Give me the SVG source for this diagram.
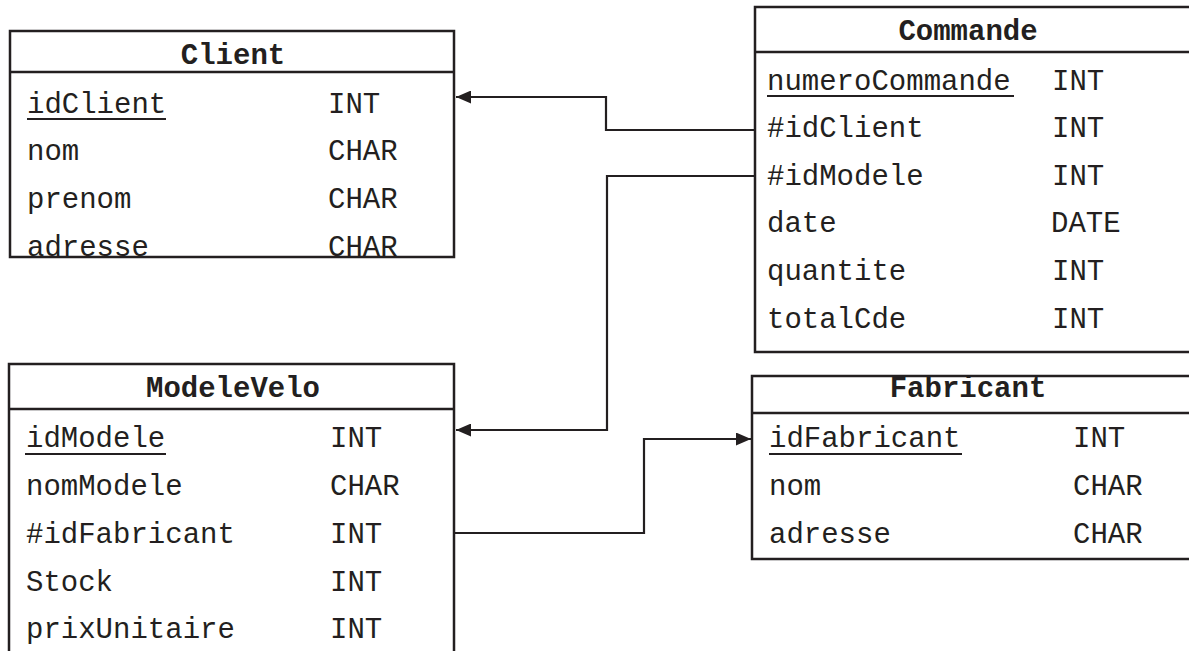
<svg xmlns="http://www.w3.org/2000/svg" width="1189" height="651" viewBox="0 0 1189 651">
<style>
.box{fill:#fff;stroke:#231f20;stroke-width:2.5}
.sep{stroke:#231f20;stroke-width:2.5}
.ul{stroke:#231f20;stroke-width:2}
.t{font-family:"Liberation Mono","Courier New",monospace;font-size:29px;fill:#231f20}
.h{font-family:"Liberation Mono","Courier New",monospace;font-size:29px;font-weight:bold;fill:#231f20;text-anchor:middle}
.c{fill:none;stroke:#231f20;stroke-width:2.2}
</style>
<defs>
<marker id="arr" viewBox="0 0 15 13" refX="15" refY="6.5" markerWidth="15" markerHeight="13" markerUnits="userSpaceOnUse" orient="auto">
<path d="M0,0 L15,6.5 L0,13 Z" fill="#231f20"/>
</marker>
</defs>
<rect width="1189" height="651" fill="#fff"/>
<g id="connectors">
<path class="c" d="M757,130 H606 V97 H456" marker-end="url(#arr)"/>
<path class="c" d="M763,176 H607 V430 H456" marker-end="url(#arr)"/>
<path class="c" d="M455,533 H644 V439 H751" marker-end="url(#arr)"/>
</g>
<g id="client">
<rect class="box" x="10" y="31" width="444" height="226"/>
<line class="sep" x1="10" y1="72" x2="454" y2="72"/>
<text class="h" x="233" y="64">Client</text>
<text class="t" x="27" y="113">idClient</text>
<line class="ul" x1="27" y1="119" x2="166" y2="119"/>
<text class="t" x="328" y="113">INT</text>
<text class="t" x="27" y="160">nom</text>
<text class="t" x="328" y="160">CHAR</text>
<text class="t" x="27" y="208">prenom</text>
<text class="t" x="328" y="208">CHAR</text>
<text class="t" x="27" y="256">adresse</text>
<text class="t" x="328" y="256">CHAR</text>
</g>
<g id="commande">
<rect class="box" x="755" y="7" width="445" height="345"/>
<line class="sep" x1="755" y1="52" x2="1200" y2="52"/>
<text class="h" x="968" y="40">Commande</text>
<text class="t" x="767" y="90">numeroCommande</text>
<line class="ul" x1="767" y1="96" x2="1014" y2="96"/>
<text class="t" x="1052" y="90">INT</text>
<text class="t" x="767" y="137">#idClient</text>
<text class="t" x="1052" y="137">INT</text>
<text class="t" x="767" y="185">#idModele</text>
<text class="t" x="1052" y="185">INT</text>
<text class="t" x="767" y="232">date</text>
<text class="t" x="1051" y="232">DATE</text>
<text class="t" x="767" y="280">quantite</text>
<text class="t" x="1052" y="280">INT</text>
<text class="t" x="767" y="328">totalCde</text>
<text class="t" x="1052" y="328">INT</text>
</g>
<g id="modelevelo">
<rect class="box" x="9" y="364" width="445" height="300"/>
<line class="sep" x1="9" y1="409" x2="454" y2="409"/>
<text class="h" x="233" y="397">ModeleVelo</text>
<text class="t" x="26" y="447">idModele</text>
<line class="ul" x1="25" y1="454" x2="166" y2="454"/>
<text class="t" x="330" y="447">INT</text>
<text class="t" x="26" y="495">nomModele</text>
<text class="t" x="330" y="495">CHAR</text>
<text class="t" x="26" y="543">#idFabricant</text>
<text class="t" x="330" y="543">INT</text>
<text class="t" x="26" y="591">Stock</text>
<text class="t" x="330" y="591">INT</text>
<text class="t" x="26" y="638">prixUnitaire</text>
<text class="t" x="330" y="638">INT</text>
</g>
<g id="fabricant">
<rect class="box" x="752" y="376" width="448" height="183"/>
<line class="sep" x1="752" y1="413" x2="1200" y2="413"/>
<text class="h" x="968" y="397">Fabricant</text>
<text class="t" x="769" y="447">idFabricant</text>
<line class="ul" x1="769" y1="454" x2="962" y2="454"/>
<text class="t" x="1073" y="447">INT</text>
<text class="t" x="769" y="495">nom</text>
<text class="t" x="1073" y="495">CHAR</text>
<text class="t" x="769" y="543">adresse</text>
<text class="t" x="1073" y="543">CHAR</text>
</g>
</svg>
